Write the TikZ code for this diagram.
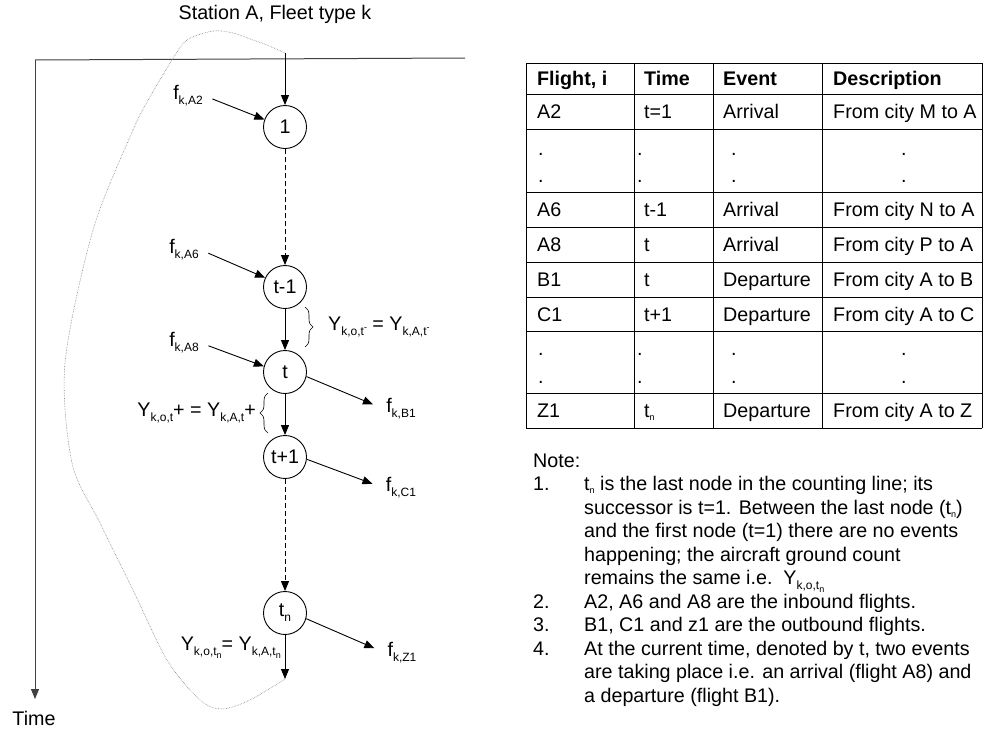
\documentclass[tikz,border=0pt]{standalone}
\usepackage{fontspec}
\setmainfont{Liberation Sans}
\usetikzlibrary{arrows.meta, positioning, calc, decorations.pathreplacing}

% lowered subscripts and raised marks, in text
\newcommand{\lo}[1]{\raisebox{-5pt}{\fontsize{12}{12}\selectfont #1}}
\newcommand{\llo}[1]{\raisebox{-3pt}{\fontsize{9}{9}\selectfont #1}}
\newcommand{\hi}[1]{\raisebox{5pt}{\fontsize{9}{9}\selectfont #1}}

\tikzset{
  event/.style={circle, draw, line width=0.9pt, minimum size=43pt, inner sep=0pt},
  flow/.style={-{Triangle[length=10pt, width=8pt]}, line width=0.9pt},
  lbl/.style={inner sep=2pt},
  cell/.style={anchor=west, inner sep=0pt, text height=14pt, text depth=0pt},
  rule/.style={line width=1pt},
  brc/.style={decorate, decoration={brace, amplitude=8pt}, line width=0.6pt},
}

\begin{document}
\begin{tikzpicture}[x=1pt, y=-1pt, font=\fontsize{19.7}{23.5}\selectfont]
  \useasboundingbox (0,0) rectangle (984,731);

  % Title and time axis
  \node (title) at (275,14) {Station A, Fleet type k};
  \draw[rule, black!75] (465,58) -- (35,60);
  \draw[flow, black!75] (35,60) -- (35,699);
  \node (time) at (34,718) {Time};

  % Event nodes
  \node[event] (n1) at (285,127) {1};
  \node[event] (ntm) at (285,287) {t-1};
  \node[event] (nt) at (285,372) {t};
  \node[event] (ntp) at (285,457) {t+1};
  \node[event] (ntn) at (285,613) {t\lo{n}};
  \coordinate (entry) at (285,53);
  \coordinate (exit) at (285,679);

  % Ground arcs
  \draw[flow] (entry) -- (n1);
  \draw[flow, dash pattern=on 5pt off 3pt] (n1) -- (ntm);
  \draw[flow] (ntm) -- (nt);
  \draw[flow] (nt) -- (ntp);
  \draw[flow, dash pattern=on 5pt off 3pt] (ntp) -- (ntn);
  \draw[flow] (ntn) -- (exit);

  % Wrap-around arc
  \draw[densely dotted, gray, line width=0.6pt] plot[smooth, tension=0.5] coordinates {
    (285,53) (267,45) (253,40) (233,33) (213,31) (187,40) (172,60) (150,97)
    (133,130) (93,230) (65,363) (72,463) (100,523) (133,590) (167,660)
    (200,700) (222,709) (250,700) (285,679)};

  % Inbound flights
  \node[lbl] (fA2) at (188,96) {f\lo{k,A2}};
  \node[lbl] (fA6) at (184,250) {f\lo{k,A6}};
  \node[lbl] (fA8) at (184,343) {f\lo{k,A8}};
  \draw[flow, shorten <=8pt] (fA2.east) -- (n1.160);
  \draw[flow, shorten <=8pt] (fA6.east) -- (ntm.155);
  \draw[flow, shorten <=8pt] (fA8.east) -- (nt.165);

  % Outbound flights
  \node[lbl] (fB1) at (401,409) {f\lo{k,B1}};
  \node[lbl] (fC1) at (401,488) {f\lo{k,C1}};
  \node[lbl] (fZ1) at (402,653) {f\lo{k,Z1}};
  \draw[flow, shorten >=12pt] (nt.-12) -- (fB1.west);
  \draw[flow, shorten >=12pt] (ntp.-6) -- (fC1.west);
  \draw[flow, shorten >=12pt] (ntn.-15) -- (fZ1.west);

  % Ground counts
  \draw[brc] (305,307) -- (305,347);
  \node[lbl, anchor=west] (ym) at (326,327) {Y\lo{k,o,t\hi{-}} = Y\lo{k,A,t\hi{-}}};
  \draw[brc] (268,433) -- (268,393);
  \node[lbl, anchor=east, inner sep=0pt] (yp) at (256,413) {Y\lo{k,o,t}+ = Y\lo{k,A,t}+};
  \node[lbl, anchor=east, inner sep=0pt] (yn) at (281,648) {Y\lo{k,o,t\llo{n}}= Y\lo{k,A,t\llo{n}}};

  % Flight table
  \foreach \y in {63,94,129,192,227,262,297,331,393,428}
    \draw[rule] (526,\y) -- (982,\y);
  \foreach \x in {526,634,713,822,982}
    \draw[rule] (\x,63) -- (\x,428);
  \foreach \y/\fl/\tm/\ev/\ds [count=\r] in {
      78.5/{\bfseries Flight, i}/{\bfseries Time}/{\bfseries Event}/{\bfseries Description},
      111.5/A2/t=1/Arrival/From city M to A,
      209.5/A6/t-1/Arrival/From city N to A,
      244.5/A8/t/Arrival/From city P to A,
      279.5/B1/t/Departure/From city A to B,
      314/C1/t+1/Departure/From city A to C,
      410.5/Z1/{t\llo{n}}/Departure/From city A to Z} {
    \node[cell] (fl\r) at (537,\y) {\fl};
    \node[cell] (tm\r) at (644,\y) {\tm};
    \node[cell] (ev\r) at (723,\y) {\ev};
    \node[cell] (ds\r) at (833,\y) {\ds};
  }
  \foreach \y in {148,175,348,376}
    \foreach \x [count=\c] in {538,637,731,901}
      \node[cell] (dot\c-\y) at (\x,\y) {.};

  % Notes
  \node[anchor=base west, inner sep=0pt] (notes) at (533,467) {%
    \begin{tabular}[t]{@{}p{51pt}@{}l@{}}
      Note: & \\
      1. & t\llo{n} is the last node in the counting line; its \\
         & successor is t=1. Between the last node (t\llo{n}) \\
         & and the first node (t=1) there are no events \\
         & happening; the aircraft ground count \\
         & remains the same i.e.\ \ \smash{Y\lo{k,o,t\llo{n}}} \\
      2. & A2, A6 and A8 are the inbound flights. \\
      3. & B1, C1 and z1 are the outbound flights. \\
      4. & At the current time, denoted by t, two events \\
         & are taking place i.e. an arrival (flight A8) and \\
         & a departure (flight B1).
    \end{tabular}};
\end{tikzpicture}
\end{document}
